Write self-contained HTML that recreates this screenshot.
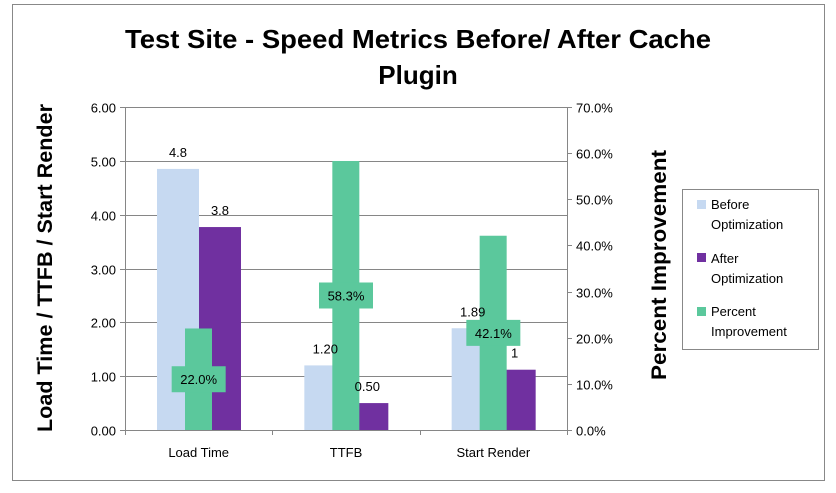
<!DOCTYPE html>
<html><head><meta charset="utf-8"><style>
html,body{margin:0;padding:0;background:#fff;}
svg{display:block;font-family:"Liberation Sans",sans-serif;}
</style></head><body>
<svg id="chart" width="836" height="493">
<rect x="12.5" y="4.5" width="812" height="476" fill="#fff" stroke="#888"/>
<text x="418" y="48" text-anchor="middle" font-size="26" font-weight="bold" fill="#000" textLength="586" lengthAdjust="spacingAndGlyphs">Test Site - Speed Metrics Before/ After Cache</text>
<text x="418" y="84" text-anchor="middle" font-size="26" font-weight="bold" fill="#000">Plugin</text>
<text transform="translate(52,268) rotate(-90)" text-anchor="middle" font-size="21" font-weight="bold" fill="#000" textLength="328" lengthAdjust="spacingAndGlyphs">Load Time / TTFB / Start Render</text>
<text transform="translate(666,265) rotate(-90)" text-anchor="middle" font-size="21" font-weight="bold" fill="#000" textLength="230" lengthAdjust="spacingAndGlyphs">Percent Improvement</text>
<g id="grid"></g><g id="bars"></g><g id="labels"></g>
<g>
<rect x="682.5" y="189.5" width="136" height="160" fill="#fff" stroke="#888"/>
<rect x="697" y="200" width="9" height="9" fill="#c6d9f1"/>
<text x="711" y="209" font-size="13">Before</text><text x="711" y="229" font-size="13">Optimization</text>
<rect x="697" y="253" width="9" height="9" fill="#7030a0"/>
<text x="711" y="263" font-size="13">After</text><text x="711" y="283" font-size="13">Optimization</text>
<rect x="697" y="307" width="9" height="9" fill="#5bc89c"/>
<text x="711" y="316" font-size="13">Percent</text><text x="711" y="336" font-size="13">Improvement</text>
</g>
</svg>
<script>
const categories=["Load Time","TTFB","Start Render"];
const beforeVals=[4.85,1.2,1.89];
const afterVals=[3.77,0.5,1.12];
const pctVals=[22.0,58.3,42.1];
const beforeLabels=["4.8","1.20","1.89"];
const afterLabels=["3.8","0.50","1"];
const leftTicks=["0.00","1.00","2.00","3.00","4.00","5.00","6.00"];
const rightTicks=["0.0%","10.0%","20.0%","30.0%","40.0%","50.0%","60.0%","70.0%"];
const L=125,R=567,T=107,B=430;
const y1=v=>B-v/6*(B-T), y2=v=>B-v/70*(B-T);
const cw=(R-L)/categories.length;
const NS="http://www.w3.org/2000/svg";
function mk(tag,attrs,parent,txt){const e=document.createElementNS(NS,tag);for(const k in attrs)e.setAttribute(k,attrs[k]);if(txt!==undefined)e.textContent=txt;parent.appendChild(e);return e;}
const g=document.getElementById('grid'),bg=document.getElementById('bars'),lg=document.getElementById('labels');
leftTicks.forEach((t,i)=>{const y=Math.round(y1(i))+0.5;
 const ln=mk('line',{x1:L-5,x2:R,y1:y,y2:y,stroke:'#868686'},g);
 
 
 const tx=mk('text',{x:L-9,y:y+5,'text-anchor':'end','font-size':13},g,t);
 
 });
rightTicks.forEach((t,i)=>{const y=Math.round(y2(i*10))+0.5;
 mk('line',{x1:R,x2:R+5,y1:y,y2:y,stroke:'#868686'},g);
 const tx=mk('text',{x:R+9,y:y+5,'font-size':13},g,t);
 
 });
mk('line',{x1:L+0.5,x2:L+0.5,y1:T,y2:B+5,stroke:'#868686'},g);
mk('line',{x1:R+0.5,x2:R+0.5,y1:T,y2:B+5,stroke:'#868686'},g);
for(let i=0;i<=categories.length;i++){const x=Math.round(L+i*cw)+0.5;mk('line',{x1:x,x2:x,y1:B,y2:B+5,stroke:'#868686'},g);}
categories.forEach((c,i)=>{const x0=L+i*cw;
 const b=mk('rect',{x:x0+32,y:y1(beforeVals[i]),width:42,height:B-y1(beforeVals[i]),fill:'#c6d9f1'},bg);
 
 
 const a=mk('rect',{x:x0+74,y:y1(afterVals[i]),width:42,height:B-y1(afterVals[i]),fill:'#7030a0'},bg);
 
 
 const p=mk('rect',{x:x0+60,y:y2(pctVals[i]),width:27,height:B-y2(pctVals[i]),fill:'#5bc89c'},bg);
 
 
 const cl=mk('text',{x:x0+cw/2,y:B+27,'text-anchor':'middle','font-size':13},lg,c);
 
 
 const my=(y2(pctVals[i])+B)/2;
 mk('rect',{x:x0+cw/2-27,y:my-13,width:54,height:26,fill:'#5bc89c'},lg);
 const pl=mk('text',{x:x0+cw/2,y:my+5,'text-anchor':'middle','font-size':13},lg,pctVals[i].toFixed(1)+'%');
 
 
 const bl=mk('text',{x:x0+53,y:y1(beforeVals[i])-12,'text-anchor':'middle','font-size':13},lg,beforeLabels[i]);
 
 
 const al=mk('text',{x:x0+95,y:y1(afterVals[i])-12,'text-anchor':'middle','font-size':13},lg,afterLabels[i]);
 
 
});
</script>
</body></html>
